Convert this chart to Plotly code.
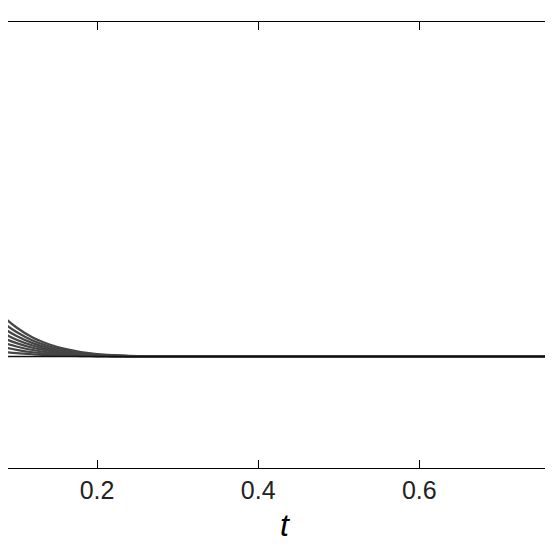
import plotly.graph_objects as go

# muestreo en t y curvas
t = [0.06, 0.08, 0.10, 0.12, 0.14, 0.16, 0.18, 0.20, 0.22, 0.24, 0.26, 0.28, 0.80]
curvas = [
    [0.260, 0.190, 0.130, 0.085, 0.055, 0.034, 0.020, 0.011, 0.006, 0.003, 0.001, 0.0, 0.0],
    [0.220, 0.160, 0.110, 0.072, 0.046, 0.028, 0.016, 0.009, 0.005, 0.002, 0.001, 0.0, 0.0],
    [0.185, 0.135, 0.092, 0.060, 0.038, 0.023, 0.013, 0.007, 0.004, 0.002, 0.0, 0.0, 0.0],
    [0.150, 0.110, 0.075, 0.049, 0.031, 0.019, 0.011, 0.006, 0.003, 0.001, 0.0, 0.0, 0.0],
    [0.120, 0.088, 0.060, 0.039, 0.025, 0.015, 0.009, 0.005, 0.002, 0.001, 0.0, 0.0, 0.0],
    [0.090, 0.066, 0.045, 0.029, 0.018, 0.011, 0.006, 0.003, 0.002, 0.0, 0.0, 0.0, 0.0],
    [0.060, 0.044, 0.030, 0.019, 0.012, 0.007, 0.004, 0.002, 0.001, 0.0, 0.0, 0.0, 0.0],
    [0.030, 0.022, 0.015, 0.010, 0.006, 0.004, 0.002, 0.001, 0.0, 0.0, 0.0, 0.0, 0.0],
    [0.0, 0.0, 0.0, 0.0, 0.0, 0.0, 0.0, 0.0, 0.0, 0.0, 0.0, 0.0, 0.0],
]
marcas = [0.2, 0.4, 0.6, 0.8]
etiquetas = ["0.2", "0.4", "0.6", "0.8"]

fig = go.Figure()

for i, c in enumerate(curvas):
    ultima = i == len(curvas) - 1
    fig.add_trace(go.Scatter(
        x=t, y=c, mode="lines",
        line=dict(color="#111111" if ultima else "#454545",
                  width=1.6 if ultima else 2.2, shape="spline"),
        hoverinfo="skip"
    ))

fig.update_xaxes(
    range=[0.0894, 0.776],
    tickvals=marcas, ticktext=etiquetas,
    ticks="inside", ticklen=8, tickcolor="black",
    showline=True, linecolor="black", linewidth=1, mirror="ticks",
    showgrid=False, zeroline=False, automargin=False,
    tickfont=dict(size=25, family="Liberation Sans", color="#222222"),
    title=dict(text="<i>t</i>", font=dict(size=32, family="Liberation Sans",
                                          color="black"), standoff=10)
)
fig.update_yaxes(
    range=[-0.5, 1.5], showline=False, showgrid=False, zeroline=False,
    showticklabels=False, ticks="", automargin=False
)

fig.update_layout(
    width=553, height=553,
    margin=dict(l=0, r=0, t=14, b=93),
    paper_bgcolor="white", plot_bgcolor="white",
    showlegend=False
)

fig.write_html("out.html")
